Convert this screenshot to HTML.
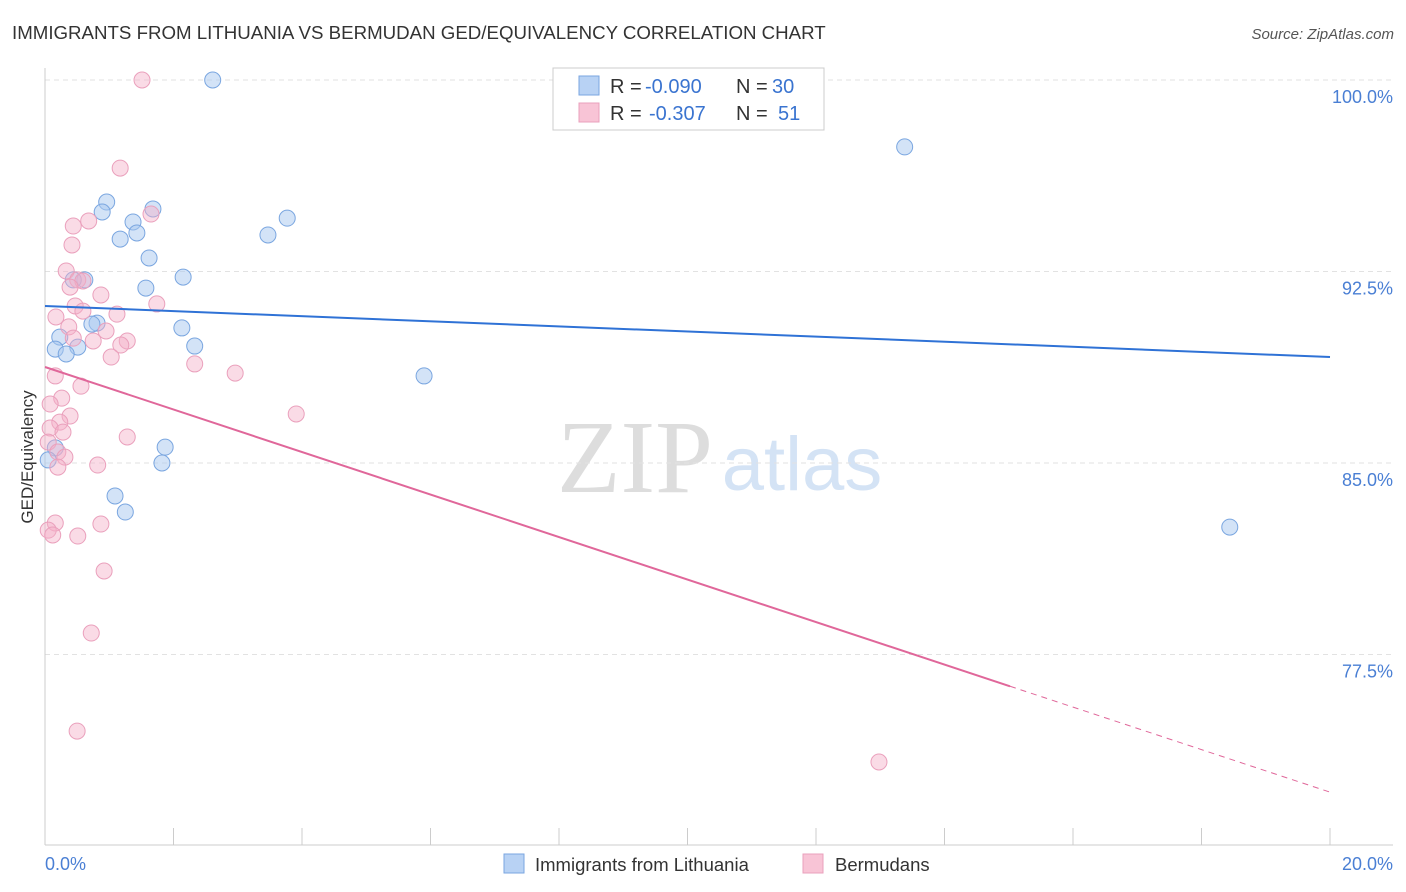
<!DOCTYPE html>
<html><head><meta charset="utf-8"><style>
body{margin:0;background:#fff;font-family:"Liberation Sans",sans-serif}
svg{display:block}
</style></head><body>
<svg id="c" width="1406" height="892">
<text x="12" y="39" font-size="18.7" fill="#333">IMMIGRANTS FROM LITHUANIA VS BERMUDAN GED/EQUIVALENCY CORRELATION CHART</text>
<text x="1394" y="39" font-size="15" fill="#555" font-style="italic" text-anchor="end">Source: ZipAtlas.com</text>
<text x="635" y="492" font-size="104" fill="#ddd" font-family="Liberation Serif,serif" text-anchor="middle">ZIP</text>
<text x="802" y="490" font-size="76" fill="#d4e3f5" text-anchor="middle">atlas</text>
<g id="grid"></g><g id="axes"></g><g id="pts"></g><g id="lines"></g>
<text transform="translate(33,457) rotate(-90)" font-size="17" fill="#333" text-anchor="middle">GED/Equivalency</text>
<text x="45" y="870" font-size="18" fill="#4a7fd4">0.0%</text>
<text x="1393" y="870" font-size="18" fill="#4a7fd4" text-anchor="end">20.0%</text>
<g>
<rect x="553" y="68" width="271" height="62" fill="#fff" stroke="#ccc"/>
<rect x="579" y="76" width="20" height="19" fill="#b8d2f4" stroke="#7aa6e0"/>
<rect x="579" y="103" width="20" height="19" fill="#f8c4d6" stroke="#eaa0bc"/>
<g font-size="20" fill="#333">
<text x="610" y="93">R =</text><text x="645" y="93" fill="#3a74d0">-0.090</text><text x="736" y="93">N =</text><text x="772" y="93" fill="#3a74d0">30</text>
<text x="610" y="120">R =</text><text x="649" y="120" fill="#3a74d0">-0.307</text><text x="736" y="120">N =</text><text x="778" y="120" fill="#3a74d0">51</text>
</g>
</g>
<g>
<rect x="504" y="854" width="20" height="19" fill="#b8d2f4" stroke="#7aa6e0"/>
<text x="535" y="871" font-size="18.5" fill="#333">Immigrants from Lithuania</text>
<rect x="803" y="854" width="20" height="19" fill="#f8c4d6" stroke="#eaa0bc"/>
<text x="835" y="871" font-size="18.5" fill="#333">Bermudans</text>
</g>
</svg>
<script>
const yTicks=[100,92.5,85,77.5];
const yTickLabels=["100.0%","92.5%","85.0%","77.5%"];
const blueX=[2.61,13.38,0.96,1.68,0.89,1.37,3.77,3.47,1.43,1.17,1.62,2.15,0.62,0.44,1.57,2.13,0.81,0.73,2.33,0.23,0.16,0.51,0.33,5.90,1.87,1.82,0.16,1.09,1.25,18.44,0.05];
const blueY=[100,97.38,95.22,94.95,94.83,94.44,94.59,93.93,94.01,93.77,93.03,92.28,92.17,92.17,91.85,90.29,90.48,90.44,89.58,89.93,89.46,89.54,89.27,88.41,85.62,85.0,85.59,83.71,83.08,82.49,85.12];
const pinkX=[1.51,1.17,1.65,0.68,0.44,0.42,0.33,0.51,0.59,0.39,0.87,1.74,0.47,0.59,0.17,0.37,0.95,1.12,0.44,0.75,1.28,1.18,1.03,2.33,2.96,0.16,0.56,0.26,0.08,0.39,3.91,0.23,0.08,0.28,1.28,0.05,0.20,0.31,0.82,0.20,0.87,0.16,0.05,0.12,0.51,0.92,0.72,0.50,12.98];
const pinkY=[100,96.55,94.75,94.48,94.28,93.54,92.52,92.17,92.13,91.89,91.58,91.23,91.15,90.95,90.72,90.33,90.17,90.83,89.89,89.78,89.78,89.62,89.15,88.88,88.52,88.41,88.01,87.54,87.31,86.84,86.92,86.6,86.37,86.21,86.02,85.82,85.43,85.23,84.92,84.84,82.61,82.65,82.37,82.18,82.14,80.77,78.34,74.5,73.29];
const blueTrend=[91.15,89.15];
const pinkTrend=[88.76,72.11];
const pinkSolidEnd=15.02;
const NS="http://www.w3.org/2000/svg";
const X=v=>45+v/20*1285, Y=v=>80+(100-v)*191.5/7.5;
function mk(t,a,p){const e=document.createElementNS(NS,t);for(const k in a)e.setAttribute(k,a[k]);p.appendChild(e);return e;}
const grid=document.getElementById('grid'),axes=document.getElementById('axes'),pts=document.getElementById('pts'),lines=document.getElementById('lines');
yTicks.forEach((t,i)=>{
 const l=mk('line',{x1:45,x2:1393,y1:Y(t),y2:Y(t),stroke:'#e2e2e2','stroke-dasharray':'5,4'},grid);
 
 
 const tx=mk('text',{x:1393,y:Y(t)+23,'font-size':18,fill:'#4a7fd4','text-anchor':'end'},grid);
 tx.textContent=yTickLabels[i];
 
 
});
const ax=mk('line',{x1:45,x2:45,y1:68,y2:845,stroke:'#ccc'},axes);


const bx=mk('line',{x1:45,x2:1393,y1:845,y2:845,stroke:'#ccc'},axes);


for(let i=0;i<=10;i++){const t=mk('line',{x1:X(i*2),x2:X(i*2),y1:828,y2:845,stroke:'#ccc'},axes);
 
 }
blueX.forEach((v,i)=>{const c=mk('circle',{cx:X(v),cy:Y(blueY[i]),r:8,fill:'rgba(168,200,240,0.5)',stroke:'#7aa6e0','stroke-width':1},pts);
 
 });
pinkX.forEach((v,i)=>{const c=mk('circle',{cx:X(v),cy:Y(pinkY[i]),r:8,fill:'rgba(244,176,200,0.45)',stroke:'#eaa0bc','stroke-width':1},pts);
 
 });
const bl=mk('line',{x1:X(0),y1:Y(blueTrend[0]),x2:X(20),y2:Y(blueTrend[1]),stroke:'#2f72d6','stroke-width':2},lines);


const pAt=x=>pinkTrend[0]+(pinkTrend[1]-pinkTrend[0])*x/20;
const pl=mk('line',{x1:X(0),y1:Y(pinkTrend[0]),x2:X(pinkSolidEnd),y2:Y(pAt(pinkSolidEnd)),stroke:'#e0679a','stroke-width':2},lines);


const pd=mk('line',{x1:X(pinkSolidEnd),y1:Y(pAt(pinkSolidEnd)),x2:X(20),y2:Y(pinkTrend[1]),stroke:'#e0679a','stroke-width':1,'stroke-dasharray':'6,5'},lines);


</script>
</body></html>
